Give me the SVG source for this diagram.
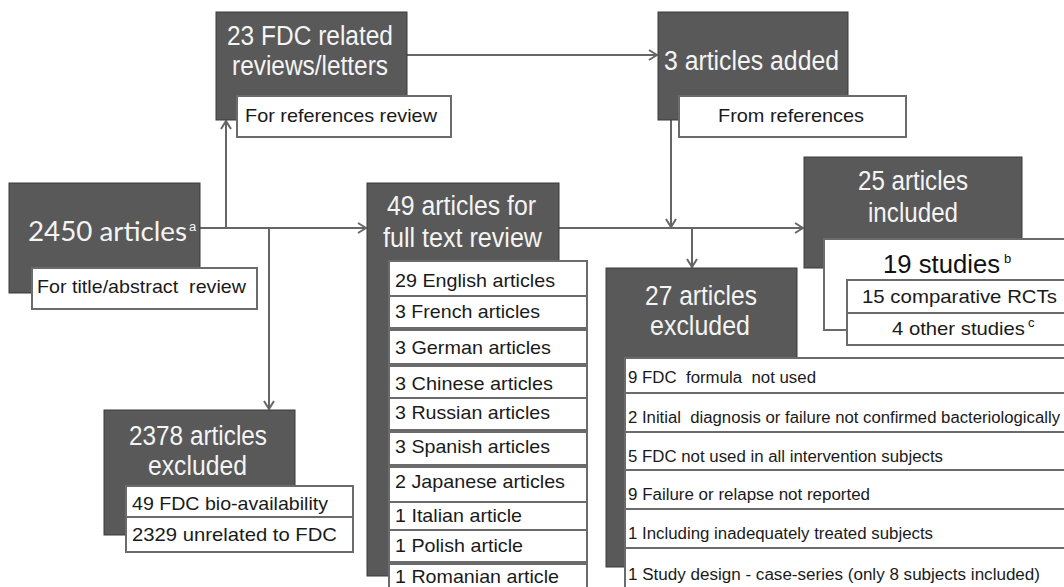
<svg xmlns="http://www.w3.org/2000/svg" width="1064" height="587" viewBox="0 0 1064 587">
<style>
text{white-space:pre}
.dark{fill:#595959;stroke:#3a3a3a;stroke-width:1}
.wbox{fill:#ffffff;stroke:#6b6b6b;stroke-width:2}
.ht{font-family:"Liberation Sans",Arial,sans-serif;font-size:27px;fill:#f4f4f4}
.ht2{font-family:Lato,"Open Sans",sans-serif;font-size:27px;fill:#f4f4f4}
.st{font-family:"Liberation Sans",Arial,sans-serif;font-size:19px;fill:#1a1a1a}
.lt{font-family:"Liberation Sans",Arial,sans-serif;font-size:19px;fill:#1a1a1a}
.nt{font-family:"Liberation Sans",Arial,sans-serif;font-size:16px;fill:#1a1a1a}
.sup{font-family:"Liberation Sans",Arial,sans-serif;font-size:13px}
.con{fill:none;stroke:#666666;stroke-width:2}
</style>
<defs>
<marker id="arr" viewBox="0 0 12 12" refX="11" refY="6" markerWidth="12" markerHeight="12" markerUnits="userSpaceOnUse" orient="auto">
<path d="M3,1 L11,6 L3,11" fill="none" stroke="#666666" stroke-width="2"/>
</marker>
</defs>
<g id="connectors">
<line class="con" x1="200" y1="228" x2="366" y2="228" marker-end="url(#arr)"/>
<line class="con" x1="226" y1="228" x2="226" y2="121" marker-end="url(#arr)"/>
<line class="con" x1="269" y1="228" x2="269" y2="409" marker-end="url(#arr)"/>
<line class="con" x1="407" y1="55" x2="657" y2="55" marker-end="url(#arr)"/>
<line class="con" x1="671" y1="120" x2="671" y2="227" marker-end="url(#arr)"/>
<line class="con" x1="559" y1="228" x2="803" y2="228" marker-end="url(#arr)"/>
<line class="con" x1="692" y1="228" x2="692" y2="267" marker-end="url(#arr)"/>
</g>
<g id="n23">
<rect class="dark" x="216" y="12" width="191" height="108"/>
<text class="ht" x="227" y="45" textLength="166" lengthAdjust="spacingAndGlyphs">23 FDC related</text>
<text class="ht" x="232" y="75" textLength="156" lengthAdjust="spacingAndGlyphs">reviews/letters</text>
<rect class="wbox" x="237" y="96" width="214" height="41"/>
<text class="st" x="245" y="122" textLength="192" lengthAdjust="spacingAndGlyphs">For references review</text>
</g>
<g id="n3">
<rect class="dark" x="658" y="12" width="190" height="108"/>
<text class="ht" x="664" y="70" textLength="175" lengthAdjust="spacingAndGlyphs">3 articles added</text>
<rect class="wbox" x="679" y="96" width="227" height="41"/>
<text class="st" x="718" y="122" textLength="146" lengthAdjust="spacingAndGlyphs">From references</text>
</g>
<g id="n2450">
<rect class="dark" x="9" y="183" width="191" height="110"/>
<text class="ht2" x="28" y="241" textLength="159" lengthAdjust="spacingAndGlyphs">2450 articles</text>
<text class="sup" x="189" y="231" fill="#f4f4f4">a</text>
<rect class="wbox" x="32" y="268" width="225" height="41"/>
<text class="st" x="37" y="293" textLength="209" lengthAdjust="spacingAndGlyphs">For title/abstract  review</text>
</g>
<g id="n2378">
<rect class="dark" x="104" y="410" width="191" height="125"/>
<text class="ht" x="129" y="445" textLength="138" lengthAdjust="spacingAndGlyphs">2378 articles</text>
<text class="ht" x="148" y="475" textLength="99" lengthAdjust="spacingAndGlyphs">excluded</text>
<rect class="wbox" x="126" y="486" width="227" height="31"/>
<rect class="wbox" x="126" y="517" width="227" height="35"/>
<text class="st" x="132" y="510" textLength="196" lengthAdjust="spacingAndGlyphs">49 FDC bio-availability</text>
<text class="st" x="132" y="541" textLength="205" lengthAdjust="spacingAndGlyphs">2329 unrelated to FDC</text>
</g>
<g id="n49">
<rect class="dark" x="367" y="183" width="192" height="393"/>
<text class="ht" x="387" y="215" textLength="149" lengthAdjust="spacingAndGlyphs">49 articles for</text>
<text class="ht" x="383" y="247" textLength="159" lengthAdjust="spacingAndGlyphs">full text review</text>
<rect class="wbox" x="389" y="261" width="198" height="35"/>
<rect class="wbox" x="389" y="296" width="198" height="32"/>
<rect class="wbox" x="389" y="330" width="198" height="34"/>
<rect class="wbox" x="389" y="366" width="198" height="32"/>
<rect class="wbox" x="389" y="398" width="198" height="32"/>
<rect class="wbox" x="389" y="432" width="198" height="33"/>
<rect class="wbox" x="389" y="467" width="198" height="35"/>
<rect class="wbox" x="389" y="502" width="198" height="28"/>
<rect class="wbox" x="389" y="530" width="198" height="32"/>
<rect class="wbox" x="389" y="564" width="198" height="36"/>
<text class="lt" x="395" y="287" textLength="160" lengthAdjust="spacingAndGlyphs">29 English articles</text>
<text class="lt" x="395" y="318" textLength="145" lengthAdjust="spacingAndGlyphs">3 French articles</text>
<text class="lt" x="395" y="354" textLength="156" lengthAdjust="spacingAndGlyphs">3 German articles</text>
<text class="lt" x="395" y="390" textLength="158" lengthAdjust="spacingAndGlyphs">3 Chinese articles</text>
<text class="lt" x="395" y="419" textLength="155" lengthAdjust="spacingAndGlyphs">3 Russian articles</text>
<text class="lt" x="395" y="453" textLength="155" lengthAdjust="spacingAndGlyphs">3 Spanish articles</text>
<text class="lt" x="395" y="488" textLength="170" lengthAdjust="spacingAndGlyphs">2 Japanese articles</text>
<text class="lt" x="395" y="522" textLength="127" lengthAdjust="spacingAndGlyphs">1 Italian article</text>
<text class="lt" x="395" y="552" textLength="128" lengthAdjust="spacingAndGlyphs">1 Polish article</text>
<text class="lt" x="395" y="583" textLength="164" lengthAdjust="spacingAndGlyphs">1 Romanian article</text>
</g>
<g id="n27">
<rect class="dark" x="606" y="268" width="191" height="299"/>
<text class="ht" x="645" y="305" textLength="112" lengthAdjust="spacingAndGlyphs">27 articles</text>
<text class="ht" x="650" y="335" textLength="100" lengthAdjust="spacingAndGlyphs">excluded</text>
<rect class="wbox" x="625" y="358" width="460" height="35"/>
<rect class="wbox" x="625" y="393" width="460" height="39"/>
<rect class="wbox" x="625" y="432" width="460" height="38"/>
<rect class="wbox" x="625" y="470" width="460" height="39"/>
<rect class="wbox" x="625" y="509" width="460" height="39"/>
<rect class="wbox" x="625" y="548" width="460" height="52"/>
<text class="nt" x="628" y="383" textLength="188" lengthAdjust="spacingAndGlyphs">9 FDC  formula  not used</text>
<text class="nt" x="628" y="423" textLength="432" lengthAdjust="spacingAndGlyphs">2 Initial  diagnosis or failure not confirmed bacteriologically</text>
<text class="nt" x="628" y="462" textLength="315" lengthAdjust="spacingAndGlyphs">5 FDC not used in all intervention subjects</text>
<text class="nt" x="628" y="500" textLength="242" lengthAdjust="spacingAndGlyphs">9 Failure or relapse not reported</text>
<text class="nt" x="628" y="539" textLength="305" lengthAdjust="spacingAndGlyphs">1 Including inadequately treated subjects</text>
<text class="nt" x="628" y="580" textLength="412" lengthAdjust="spacingAndGlyphs">1 Study design - case-series (only 8 subjects included)</text>
</g>
<g id="n25">
<rect class="dark" x="804" y="157" width="218" height="111"/>
<text class="ht" x="858" y="190" textLength="110" lengthAdjust="spacingAndGlyphs">25 articles</text>
<text class="ht" x="868" y="222" textLength="90" lengthAdjust="spacingAndGlyphs">included</text>
<rect class="wbox" x="824" y="239" width="260" height="91"/>
<text x="883" y="273" font-family="Liberation Sans, Arial, sans-serif" font-size="25" fill="#111111" textLength="117" lengthAdjust="spacingAndGlyphs">19 studies</text>
<text class="sup" x="1004" y="263" fill="#111111">b</text>
<rect class="wbox" x="847" y="280" width="240" height="33"/>
<rect class="wbox" x="847" y="313" width="240" height="32"/>
<text class="lt" x="862" y="303" textLength="195" lengthAdjust="spacingAndGlyphs">15 comparative RCTs</text>
<text class="lt" x="892" y="335" textLength="133" lengthAdjust="spacingAndGlyphs">4 other studies</text>
<text class="sup" x="1028" y="327" fill="#111111">c</text>
</g>
</svg>
